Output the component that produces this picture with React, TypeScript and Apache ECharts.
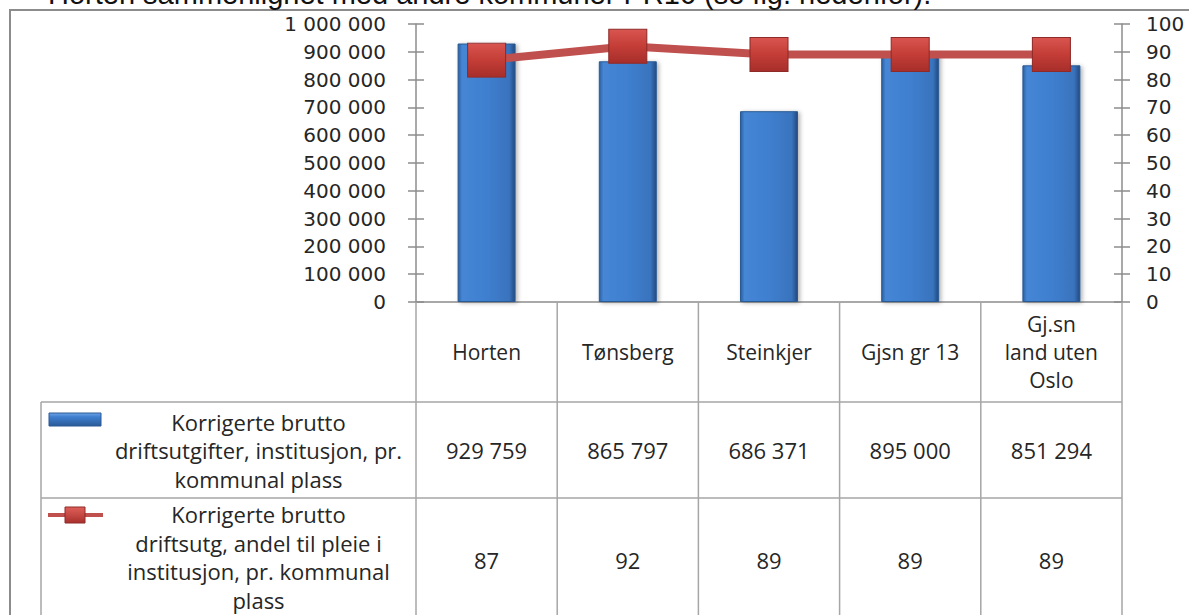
import React, { useEffect, useRef } from 'react';
import * as echarts from 'echarts';

const titleText = 'Horten sammenlignet med andre kommuner PR16 (se fig. nedenfor).';
const categories = ['Horten', 'Tønsberg', 'Steinkjer', 'Gjsn gr 13', 'Gj.sn\nland uten\nOslo'];
const costValues = [929759, 865797, 686371, 895000, 851294];
const shareValues = [87, 92, 89, 89, 89];
const seriesNames = [
  'Korrigerte brutto\ndriftsutgifter, institusjon, pr.\nkommunal plass',
  'Korrigerte brutto\ndriftsutg, andel til pleie i\ninstitusjon, pr. kommunal\nplass',
];
const leftAxis = { min: 0, max: 1000000, interval: 100000 };
const rightAxis = { min: 0, max: 100, interval: 10 };

const W = 1189;
const H = 615;
const PL = 416, PR = 1122, PT = 24, PB = 302;
const CAT_B = 402, ROW1_B = 498, TABLE_L = 41;
const GRID_COLOR = '#a6a6a6';
const AXIS_COLOR = '#8c8c8c';
const TEXT = '#262626';
const FONT = '"Open Sans", "Noto Sans", sans-serif';
const AXIS_FONT = '"DejaVu Sans", Verdana, sans-serif';

const fmt = (v: number) => String(v).replace(/\B(?=(\d{3})+(?!\d))/g, ' ');

function txt(text: string, x: number, y: number, size: number, opts: any = {}) {
  return {
    type: 'text',
    x,
    y,
    scaleX: opts.scaleX ?? 1,
    z: 10,
    silent: true,
    style: {
      text,
      x: 0,
      y: 0,
      fill: opts.fill ?? TEXT,
      font: `${size}px ${opts.family ?? FONT}`,
      align: opts.align ?? 'center',
      textAlign: opts.align ?? 'center',
      verticalAlign: opts.va ?? 'middle',
      textVerticalAlign: opts.va ?? 'middle',
      lineHeight: opts.lh ?? size * 1.35,
    },
  };
}

function ln(x1: number, y1: number, x2: number, y2: number, color = GRID_COLOR, w = 1.5) {
  return { type: 'line', silent: true, z: 5, shape: { x1, y1, x2, y2 }, style: { stroke: color, lineWidth: w } };
}

export default function App() {
  const ref = useRef<HTMLDivElement>(null);
  useEffect(() => {
    if (!ref.current) return;
    const chart = echarts.init(ref.current, undefined, { renderer: 'svg' });
    const n = categories.length;
    const colW = (PR - PL) / n;
    const graphics: any[] = [];
    // outer frame
    graphics.push({ type: 'polyline', silent: true, shape: { points: [[10, H + 5], [10, 10], [W + 5, 10]] }, style: { stroke: AXIS_COLOR, lineWidth: 2, fill: 'none' } });
    // title (cut off at top)
    graphics.push(txt(titleText, 48, 8, 29, { align: 'left', va: 'bottom', family: '"Liberation Sans", Arial, sans-serif', fill: '#111', lh: 29 }));
    // table lines
    for (let i = 0; i <= n; i++) {
      const x = PL + i * colW;
      graphics.push(ln(x, PB, x, H + 5));
    }
    graphics.push(ln(TABLE_L, CAT_B, PR, CAT_B));
    graphics.push(ln(TABLE_L, ROW1_B, PR, ROW1_B));
    graphics.push(ln(TABLE_L, CAT_B, TABLE_L, H + 5));
    // legend keys
    graphics.push({
      type: 'rect', silent: true, z: 6,
      shape: { x: 49, y: 413, width: 52, height: 13 },
      style: {
        fill: new echarts.graphic.LinearGradient(0, 0, 0, 1, [
          { offset: 0, color: '#6ea4e6' }, { offset: 0.3, color: '#3f7fcf' }, { offset: 1, color: '#2a5a98' },
        ]),
        stroke: '#2b5a94', lineWidth: 1,
      },
    });
    graphics.push(ln(48, 515, 103, 515, '#c0504d', 4));
    graphics.push({
      type: 'rect', silent: true, z: 7,
      shape: { x: 65, y: 507, width: 20, height: 16 },
      style: {
        fill: new echarts.graphic.LinearGradient(0, 0, 0, 1, [
          { offset: 0, color: '#e0605a' }, { offset: 1, color: '#a9302c' },
        ]),
        stroke: '#8e2b28', lineWidth: 1,
      },
    });
    // legend texts
    const labelCx = (101 + PL) / 2;
    graphics.push(txt(seriesNames[0], labelCx, (CAT_B + ROW1_B) / 2, 22, { lh: 28.5 }));
    graphics.push(txt(seriesNames[1], labelCx, 557, 22, { lh: 28.5 }));
    // values
    for (let i = 0; i < n; i++) {
      const cx = PL + (i + 0.5) * colW;
      graphics.push(txt(fmt(costValues[i]), cx, (CAT_B + ROW1_B) / 2, 22));
      graphics.push(txt(String(shareValues[i]), cx, 560, 22));
    }

    const axisBase = (o: any) => ({
      type: 'value',
      min: o.min,
      max: o.max,
      interval: o.interval,
      splitLine: { show: false },
    });

    chart.setOption({
      animation: false,
      backgroundColor: '#ffffff',
      grid: { left: PL, right: W - PR, top: PT, bottom: H - PB, containLabel: false },
      xAxis: {
        type: 'category',
        data: categories,
        axisLine: { show: true, lineStyle: { color: AXIS_COLOR, width: 1.5 } },
        axisTick: { show: false },
        axisLabel: {
          interval: 0,
          margin: 50,
          verticalAlign: 'middle',
          lineHeight: 28,
          fontSize: 21,
          fontFamily: FONT,
          color: TEXT,
        },
      },
      yAxis: [
        {
          ...axisBase(leftAxis),
          position: 'left',
          axisLine: { show: true, lineStyle: { color: AXIS_COLOR, width: 1.5 } },
          axisTick: { show: true, inside: false, length: 8, lineStyle: { color: AXIS_COLOR, width: 1.5 } },
          axisLabel: { margin: 30, fontSize: 20, fontFamily: AXIS_FONT, color: TEXT, formatter: (v: number) => fmt(v) },
        },
        {
          ...axisBase(rightAxis),
          position: 'right',
          axisLine: { show: true, lineStyle: { color: AXIS_COLOR, width: 1.5 } },
          axisTick: { show: true, inside: false, length: 8, lineStyle: { color: AXIS_COLOR, width: 1.5 } },
          axisLabel: { margin: 24, fontSize: 20, fontFamily: AXIS_FONT, color: TEXT },
        },
        {
          ...axisBase(leftAxis),
          position: 'left',
          axisLine: { show: false },
          axisTick: { show: true, inside: true, length: 8, lineStyle: { color: AXIS_COLOR, width: 1.5 } },
          axisLabel: { show: false },
        },
        {
          ...axisBase(rightAxis),
          position: 'right',
          axisLine: { show: false },
          axisTick: { show: true, inside: true, length: 8, lineStyle: { color: AXIS_COLOR, width: 1.5 } },
          axisLabel: { show: false },
        },
      ],
      series: [
        {
          name: seriesNames[0],
          type: 'bar',
          yAxisIndex: 0,
          data: costValues,
          barWidth: 58,
          z: 2,
          itemStyle: {
            color: new echarts.graphic.LinearGradient(0, 0, 1, 0, [
              { offset: 0, color: '#2c5f9f' },
              { offset: 0.07, color: '#4586d5' },
              { offset: 0.5, color: '#3f7fcf' },
              { offset: 0.9, color: '#3973bd' },
              { offset: 1, color: '#22497f' },
            ]),
            borderColor: '#2b5a94',
            borderWidth: 1,
            shadowBlur: 4,
            shadowColor: 'rgba(0,0,0,0.3)',
            shadowOffsetX: 2,
            shadowOffsetY: 1,
          },
        },
        {
          name: seriesNames[1],
          type: 'line',
          yAxisIndex: 1,
          data: shareValues,
          z: 3,
          symbol: 'rect',
          symbolSize: [38, 34],
          lineStyle: { color: '#c0504d', width: 8 },
          itemStyle: {
            color: new echarts.graphic.LinearGradient(0, 0, 0, 1, [
              { offset: 0, color: '#d9554f' },
              { offset: 0.5, color: '#c43d37' },
              { offset: 1, color: '#a62e2a' },
            ]),
            borderColor: '#8e2b28',
            borderWidth: 1,
          },
        },
      ],
      graphic: graphics,
    });
    return () => chart.dispose();
  }, []);
  return (
    <div
      ref={ref}
      style={{ position: 'absolute', left: 0, top: 0, width: W, height: H, background: '#fff' }}
    />
  );
}
